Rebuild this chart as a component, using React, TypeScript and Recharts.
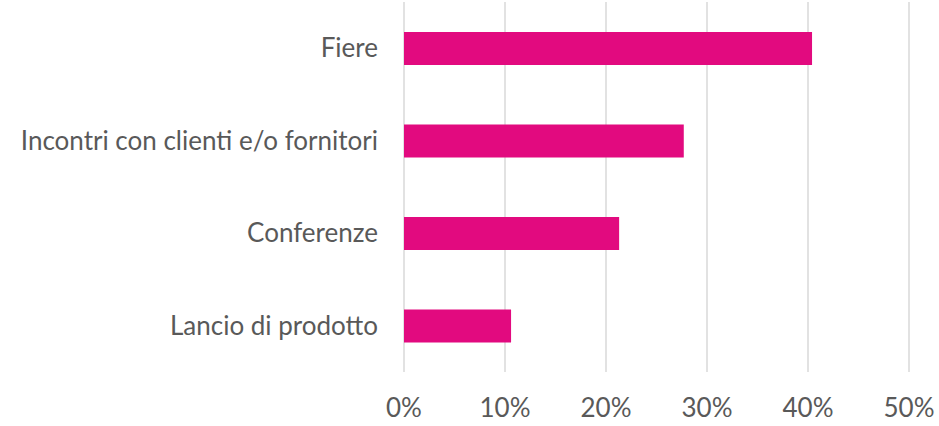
import React from 'react';
import { BarChart, Bar, XAxis, YAxis, CartesianGrid } from 'recharts';

const categories = ['Fiere', 'Incontri con clienti e/o fornitori', 'Conferenze', 'Lancio di prodotto'];
const shares = [0.404, 0.277, 0.213, 0.106];
const xTicks = [0, 0.1, 0.2, 0.3, 0.4, 0.5];

const BAR_COLOR = '#E20A7F';
const TEXT_COLOR = '#595959';
const FONT = 'Lato, "Open Sans", sans-serif';

const data = categories.map((name, i) => ({ name, value: shares[i] }));

export default function App() {
  return (
    <div style={{ position: 'absolute', left: 0, top: 0, width: 939, height: 426, background: '#fff' }}>
      <BarChart
        width={939}
        height={426}
        data={data}
        layout="vertical"
        margin={{ top: 2, right: 30, bottom: 0, left: 0 }}
      >
        <CartesianGrid horizontal={false} stroke="#D9D9D9" strokeWidth={1.5} />
        <XAxis
          type="number"
          domain={[0, 0.5]}
          ticks={xTicks}
          tickFormatter={(v: number) => `${Math.round(v * 100)}%`}
          axisLine={false}
          tickLine={false}
          height={54}
          tick={{ fill: TEXT_COLOR, fontSize: 26, fontFamily: FONT }}
          tickMargin={21}
        />
        <YAxis
          type="category"
          dataKey="name"
          width={404}
          axisLine={false}
          tickLine={false}
          tickMargin={20}
          tick={{ fill: TEXT_COLOR, fontSize: 26, fontFamily: FONT }}
        />
        <Bar dataKey="value" fill={BAR_COLOR} barSize={33} isAnimationActive={false} />
      </BarChart>
    </div>
  );
}
